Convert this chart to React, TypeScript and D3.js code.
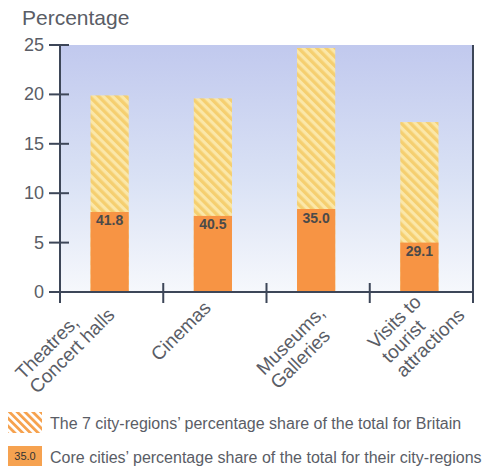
import React, { useEffect, useRef } from 'react';
import * as d3 from 'd3';

// ---- data ----
const categories: string[][] = [
  ['Theatres,', 'Concert halls'],
  ['Cinemas'],
  ['Museums,', 'Galleries'],
  ['Visits to', 'tourist', 'attractions'],
];
const regionShare = [19.9, 19.6, 24.7, 17.2];
const coreSegment = [8.1, 7.7, 8.4, 5.0];
const coreLabels = ['41.8', '40.5', '35.0', '29.1'];
const yTicks = [0, 5, 10, 15, 20, 25];
const legendLabels = [
  'The 7 city-regions’ percentage share of the total for Britain',
  'Core cities’ percentage share of the total for their city-regions',
];
const legendSample = '35.0';
const yTitle = 'Percentage';

// ---- layout (not data) ----
const W = 491;
const H = 467;
const PLOT = { left: 60, right: 473, top: 45, bottom: 292 };
const LABEL_NUDGE: [number, number][] = [
  [-10, 302],
  [-3, 309],
  [8, 314],
  [16, 288],
];
const FONT = "'Liberation Sans', Arial, sans-serif";
const AXIS = '#3d4658';
const TEXT = '#5a5d66';

export default function App() {
  const ref = useRef<SVGSVGElement>(null);

  useEffect(() => {
    const svg = d3.select(ref.current);
    svg.selectAll('*').remove();

    const defs = svg.append('defs');
    const grad = defs
      .append('linearGradient')
      .attr('id', 'bg')
      .attr('x1', 0)
      .attr('y1', 0)
      .attr('x2', 0)
      .attr('y2', 1);
    grad.append('stop').attr('offset', '0%').attr('stop-color', '#c1c9ee');
    grad.append('stop').attr('offset', '55%').attr('stop-color', '#dae2f5');
    grad.append('stop').attr('offset', '100%').attr('stop-color', '#f6f8fc');

    const hatch = defs
      .append('pattern')
      .attr('id', 'hatch')
      .attr('patternUnits', 'userSpaceOnUse')
      .attr('width', 6.5)
      .attr('height', 6.5)
      .attr('patternTransform', 'rotate(-45)');
    hatch.append('rect').attr('width', 6.5).attr('height', 6.5).attr('fill', '#fbe7a8');
    hatch.append('rect').attr('width', 3.3).attr('height', 6.5).attr('fill', '#f5cf70');

    const hatchL = defs
      .append('pattern')
      .attr('id', 'hatchL')
      .attr('patternUnits', 'userSpaceOnUse')
      .attr('width', 5.5)
      .attr('height', 5.5)
      .attr('patternTransform', 'rotate(-45)');
    hatchL.append('rect').attr('width', 5.5).attr('height', 5.5).attr('fill', '#fff');
    hatchL.append('rect').attr('width', 2.8).attr('height', 5.5).attr('fill', '#f6a24e');

    const idx = categories.map((_, i) => i);
    const x = d3.scaleBand<number>().domain(idx).range([PLOT.left, PLOT.right]).padding(0);
    const y = d3.scaleLinear().domain([0, 25]).range([PLOT.bottom, PLOT.top]);
    const barW = x.bandwidth() * 0.37;
    const barX = (i: number) => (x(i) as number) + x.bandwidth() / 2 - barW / 2 - 2;

    // background
    svg
      .append('rect')
      .attr('x', PLOT.left)
      .attr('y', y(25))
      .attr('width', PLOT.right - PLOT.left)
      .attr('height', y(0) - y(25))
      .attr('fill', 'url(#bg)');

    // title
    svg
      .append('text')
      .attr('x', 22)
      .attr('y', 25)
      .attr('font-family', FONT)
      .attr('font-size', 21)
      .attr('fill', TEXT)
      .text(yTitle);

    // hatched bars
    svg
      .append('g')
      .selectAll('rect')
      .data(regionShare)
      .join('rect')
      .attr('x', (_, i) => barX(i))
      .attr('y', (d) => y(d))
      .attr('width', barW)
      .attr('height', (d) => y(0) - y(d))
      .attr('fill', 'url(#hatch)');

    // core bars
    svg
      .append('g')
      .selectAll('rect')
      .data(coreSegment)
      .join('rect')
      .attr('x', (_, i) => barX(i))
      .attr('y', (d) => y(d))
      .attr('width', barW)
      .attr('height', (d) => y(0) - y(d))
      .attr('fill', '#f79444');

    svg
      .append('g')
      .selectAll('text')
      .data(coreSegment)
      .join('text')
      .attr('x', (_, i) => barX(i) + barW / 2)
      .attr('y', (d) => y(d) + 13.5)
      .attr('text-anchor', 'middle')
      .attr('font-family', FONT)
      .attr('font-size', 14)
      .attr('font-weight', 'bold')
      .attr('fill', '#4a4a4a')
      .text((_, i) => coreLabels[i]);

    // y axis
    const ya = svg.append('g');
    ya.append('line')
      .attr('x1', PLOT.left)
      .attr('x2', PLOT.left)
      .attr('y1', y(25))
      .attr('y2', y(0) + 11)
      .attr('stroke', AXIS)
      .attr('stroke-width', 2);
    ya.selectAll('line.t')
      .data(yTicks)
      .join('line')
      .attr('class', 't')
      .attr('x1', PLOT.left - 11)
      .attr('x2', PLOT.left + 9)
      .attr('y1', (d) => y(d))
      .attr('y2', (d) => y(d))
      .attr('stroke', AXIS)
      .attr('stroke-width', 2);
    ya.selectAll('text')
      .data(yTicks)
      .join('text')
      .attr('x', 44)
      .attr('y', (d) => y(d) + 6)
      .attr('text-anchor', 'end')
      .attr('font-family', FONT)
      .attr('font-size', 18)
      .attr('fill', TEXT)
      .text((d) => String(d));

    // x axis
    const xa = svg.append('g');
    xa.append('line')
      .attr('x1', PLOT.left)
      .attr('x2', PLOT.right)
      .attr('y1', y(0))
      .attr('y2', y(0))
      .attr('stroke', AXIS)
      .attr('stroke-width', 2);
    xa.append('line')
      .attr('x1', PLOT.right)
      .attr('x2', PLOT.right)
      .attr('y1', y(25))
      .attr('y2', y(0) + 11)
      .attr('stroke', AXIS)
      .attr('stroke-width', 2);
    const bounds = [...idx.map((i) => x(i) as number), PLOT.right];
    xa.selectAll('line.t')
      .data(bounds.slice(1, -1))
      .join('line')
      .attr('class', 't')
      .attr('x1', (d) => d)
      .attr('x2', (d) => d)
      .attr('y1', y(0) - 9)
      .attr('y2', y(0) + 11)
      .attr('stroke', AXIS)
      .attr('stroke-width', 2);

    // category labels
    const lh = 20;
    categories.forEach((lines, i) => {
      const cx = (x(i) as number) + x.bandwidth() / 2 + LABEL_NUDGE[i][0];
      const g = svg
        .append('g')
        .attr('transform', `translate(${cx},${LABEL_NUDGE[i][1]}) rotate(-45)`);
      const texts = g
        .selectAll('text')
        .data(lines)
        .join('text')
        .attr('y', (_, j) => j * lh)
        .attr('font-family', FONT)
        .attr('font-size', 19)
        .attr('fill', TEXT)
        .text((d) => d);
      let maxW = 0;
      texts.each(function () {
        maxW = Math.max(maxW, (this as SVGTextElement).getComputedTextLength());
      });
      texts.attr('x', -maxW);
    });

    // legend
    const lg = svg.append('g');
    lg.append('rect')
      .attr('x', 8)
      .attr('y', 412)
      .attr('width', 34)
      .attr('height', 21)
      .attr('fill', 'url(#hatchL)');
    lg.append('rect')
      .attr('x', 8)
      .attr('y', 446)
      .attr('width', 34)
      .attr('height', 20)
      .attr('fill', '#f6a250');
    lg.append('text')
      .attr('x', 25)
      .attr('y', 460)
      .attr('text-anchor', 'middle')
      .attr('font-family', FONT)
      .attr('font-size', 11)
      .attr('fill', '#333')
      .text(legendSample);
    lg.selectAll('text.l')
      .data(legendLabels)
      .join('text')
      .attr('class', 'l')
      .attr('x', 50)
      .attr('y', (_, i) => 429 + i * 34)
      .attr('font-family', FONT)
      .attr('font-size', 16)
      .attr('fill', TEXT)
      .text((d) => d);
  }, []);

  return (
    <svg
      ref={ref}
      width={W}
      height={H}
      style={{ position: 'absolute', left: 0, top: 0, background: '#fff' }}
    />
  );
}
